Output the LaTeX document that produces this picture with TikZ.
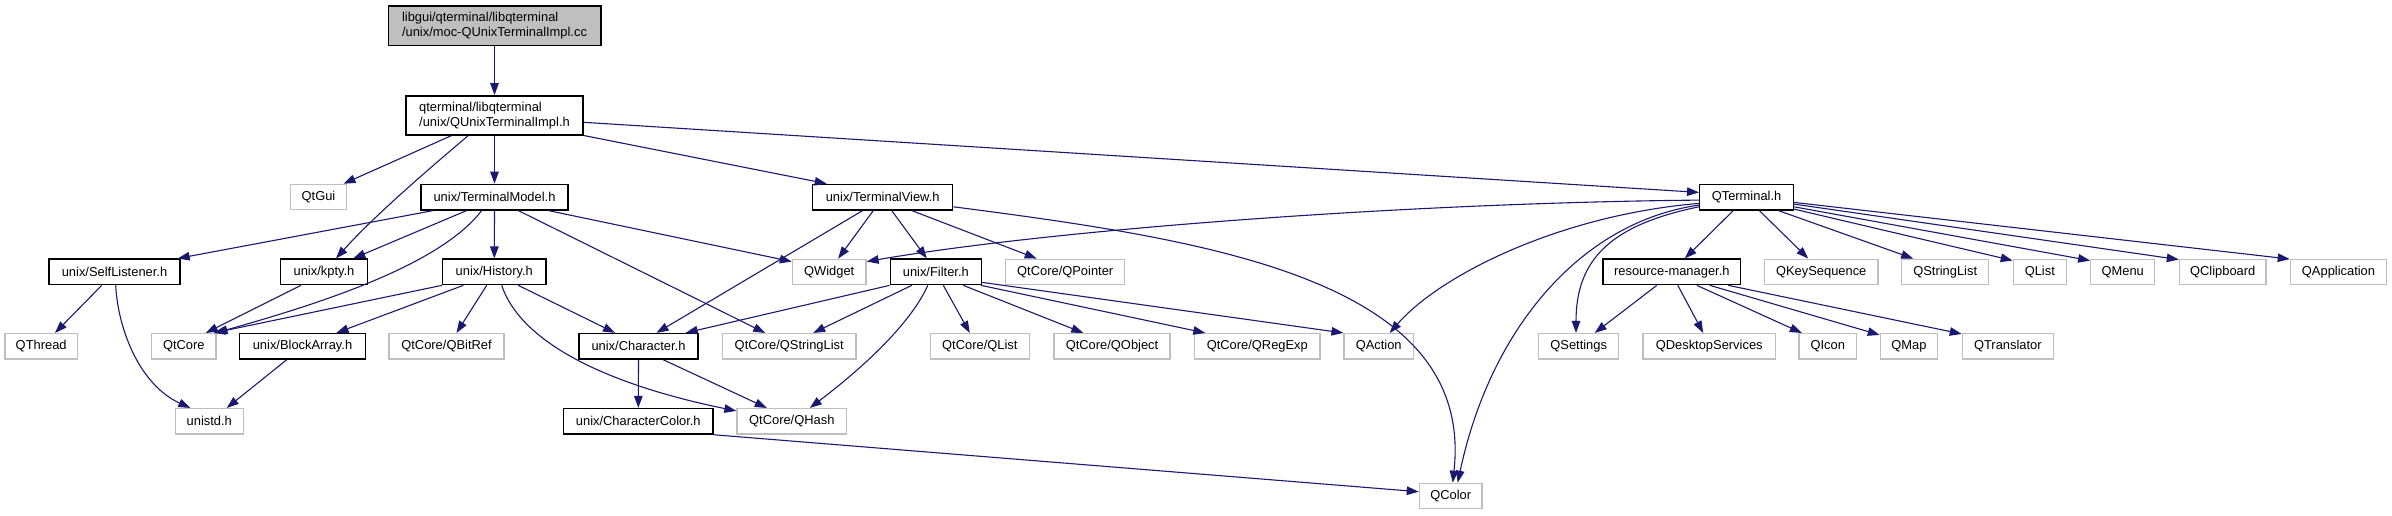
\documentclass[tikz,border=0pt]{standalone}
\usepackage{fontspec}
\setmainfont{Liberation Sans}
\usetikzlibrary{arrows.meta}
\definecolor{edgec}{HTML}{191970}
\definecolor{greyb}{HTML}{BFBFBF}
\begin{document}
\begin{tikzpicture}[x=1pt,y=-1pt,
  every node/.style={font=\fontsize{12.9}{15}\selectfont, inner sep=0pt, minimum height=25.5pt, anchor=center},
  docnode/.style={draw=black, line width=1.4pt, fill=white},
  extnode/.style={draw=greyb, line width=1.2pt, fill=white},
  rootnode/.style={draw=black, line width=1.4pt, fill=greyb, align=left, minimum height=39.5pt},
  twonode/.style={draw=black, line width=1.4pt, fill=white, align=left, minimum height=39pt},
  dep/.style={draw=edgec, line width=1.1pt, -{Triangle[length=12pt,width=8.5pt]}}
]
\useasboundingbox (0,0) rectangle (2392,515);
% row 0,1
\node[rootnode, minimum width=212.6pt] (root) at (494.5,25.9) {libgui/qterminal/libqterminal\\/unix/moc-QUnixTerminalImpl.cc};
\node[twonode, minimum width=177pt] (impl) at (494.5,115.3) {qterminal/libqterminal\\/unix/QUnixTerminalImpl.h};
% row 2
\node[extnode, minimum width=55.6pt] (qtgui) at (318.5,197.1) {QtGui};
\node[docnode, minimum width=147pt] (tmodel) at (494.5,197.1) {unix/TerminalModel.h};
\node[docnode, minimum width=140pt] (tview) at (882.7,197.1) {unix/TerminalView.h};
\node[docnode, minimum width=93.6pt] (qterm) at (1746.5,197.1) {QTerminal.h};
% row 3
\node[docnode, minimum width=131pt] (selfl) at (114.5,271.9) {unix/SelfListener.h};
\node[docnode, minimum width=86.6pt] (kpty) at (324,271.9) {unix/kpty.h};
\node[docnode, minimum width=103.3pt] (hist) at (494.3,271.9) {unix/History.h};
\node[extnode, minimum width=73.7pt] (qwidget) at (829.2,271.9) {QWidget};
\node[docnode, minimum width=91pt] (filter) at (935.8,271.9) {unix/Filter.h};
\node[extnode, minimum width=119pt] (qpointer) at (1065.2,271.9) {QtCore/QPointer};
\node[docnode, minimum width=137.7pt] (resmgr) at (1671.8,271.9) {resource-manager.h};
\node[extnode, minimum width=113.7pt] (qkeyseq) at (1821.2,271.9) {QKeySequence};
\node[extnode, minimum width=87pt] (qstrl) at (1945.2,271.9) {QStringList};
\node[extnode, minimum width=53pt] (qlist) at (2039.8,271.9) {QList};
\node[extnode, minimum width=64pt] (qmenu) at (2122.7,271.9) {QMenu};
\node[extnode, minimum width=86.7pt] (qclip) at (2222.7,271.9) {QClipboard};
\node[extnode, minimum width=96.4pt] (qapp) at (2338.5,271.9) {QApplication};
% row 4
\node[extnode, minimum width=72.3pt] (qthread) at (41.2,346.3) {QThread};
\node[extnode, minimum width=64.3pt] (qtcore) at (183.8,346.3) {QtCore};
\node[docnode, minimum width=125.6pt] (blockarr) at (302.5,346.3) {unix/BlockArray.h};
\node[extnode, minimum width=115pt] (qbitref) at (446.5,346.3) {QtCore/QBitRef};
\node[docnode, minimum width=119pt] (charh) at (638.5,346.3) {unix/Character.h};
\node[extnode, minimum width=133.7pt] (qcsl) at (789.2,346.3) {QtCore/QStringList};
\node[extnode, minimum width=99pt] (qclist) at (979.8,346.3) {QtCore/QList};
\node[extnode, minimum width=116pt] (qobject) at (1112,346.3) {QtCore/QObject};
\node[extnode, minimum width=125.3pt] (qregexp) at (1257.3,346.3) {QtCore/QRegExp};
\node[extnode, minimum width=69.3pt] (qaction) at (1378.7,346.3) {QAction};
\node[extnode, minimum width=80pt] (qsettings) at (1578.7,346.3) {QSettings};
\node[extnode, minimum width=132.3pt] (qdesk) at (1709.2,346.3) {QDesktopServices};
\node[extnode, minimum width=57.7pt] (qicon) at (1827.8,346.3) {QIcon};
\node[extnode, minimum width=57.4pt] (qmap) at (1909,346.3) {QMap};
\node[extnode, minimum width=91pt] (qtrans) at (2007.8,346.3) {QTranslator};
% row 5
\node[extnode, minimum width=68pt] (unistd) at (209.3,421.3) {unistd.h};
\node[docnode, minimum width=149.3pt] (charcolor) at (638.3,421.3) {unix/CharacterColor.h};
\node[extnode, minimum width=109.7pt] (qhash) at (791.8,421.3) {QtCore/QHash};
% row 6
\node[extnode, minimum width=62.7pt] (qcolor) at (1450.7,496) {QColor};

% edges
\draw[dep] (root.south) -- (impl.north);
\draw[dep] ([xshift=-42.8pt]impl.south) -- ([xshift=25pt]qtgui.north);
\draw[dep] ([xshift=-26.2pt]impl.south) .. controls (430,168) and (375,215) .. ([xshift=12pt]kpty.north);
\draw[dep] (impl.south) -- (tmodel.north);
\draw[dep] (impl.south east) -- ([xshift=-56pt]tview.north);
\draw[dep] ([yshift=-7pt]impl.east) -- ([yshift=4.7pt]qterm.west);

\draw[dep] ([xshift=-61.2pt]tmodel.south) -- ([xshift=-3pt]selfl.north east);
\draw[dep] ([xshift=-27.8pt]tmodel.south) -- ([xshift=29.3pt]kpty.north);
\draw[dep] ([xshift=-12.8pt]tmodel.south) .. controls (440,265) and (322,303) .. ([xshift=-1pt]qtcore.north east);
\draw[dep] (tmodel.south) -- (hist.north);
\draw[dep] ([xshift=23.8pt]tmodel.south) -- ([xshift=-24pt]qcsl.north);
\draw[dep] ([xshift=53.8pt]tmodel.south) -- ([yshift=-3pt]qwidget.north west);

\draw[dep] ([xshift=-12.8pt]selfl.south) -- ([xshift=13.8pt]qthread.north);
\draw[dep] ([xshift=1.2pt]selfl.south) .. controls (118,330) and (140,385) .. ([xshift=-19pt]unistd.north);

\draw[dep] ([xshift=-23pt]kpty.south) -- ([xshift=22pt]qtcore.north);

\draw[dep] (hist.south west) -- ([xshift=-3pt]qtcore.north east);
\draw[dep] ([xshift=-31pt]hist.south) -- ([xshift=34pt]blockarr.north);
\draw[dep] ([xshift=-7.6pt]hist.south) -- ([xshift=10pt]qbitref.north);
\draw[dep] ([xshift=24pt]hist.south) -- ([xshift=-23.5pt]charh.north);
\draw[dep] ([xshift=7.4pt]hist.south) .. controls (520,340) and (600,383) .. ([yshift=-3pt]qhash.north west);

\draw[dep] ([xshift=-15.8pt]blockarr.south) -- ([xshift=17.4pt]unistd.north);

\draw[dep] (charh.south) -- (charcolor.north);
\draw[dep] ([xshift=24.8pt]charh.south) -- ([xshift=-25pt]qhash.north);

\draw[dep] (charcolor.south east) -- ([yshift=4.3pt]qcolor.west);

\draw[dep] ([xshift=-20pt]tview.south) -- ([xshift=18pt]charh.north);
\draw[dep] ([xshift=-9.4pt]tview.south) -- ([xshift=9pt]qwidget.north);
\draw[dep] ([xshift=9pt]tview.south) -- ([xshift=-9pt]filter.north);
\draw[dep] ([xshift=29pt]tview.south) -- ([xshift=-28.5pt]qpointer.north);
\draw[dep] ([yshift=-9.7pt]tview.east) .. controls (1210,240) and (1475,280) .. ([xshift=2pt]qcolor.north);

\draw[dep] (filter.south west) -- ([xshift=-13pt]charh.north east);
\draw[dep] ([xshift=-24pt]filter.south) -- ([xshift=24pt]qcsl.north);
\draw[dep] ([xshift=-8pt]filter.south) .. controls (910,325) and (860,370) .. ([xshift=18pt]qhash.north);
\draw[dep] ([xshift=7.5pt]filter.south) -- ([xshift=-10pt]qclist.north);
\draw[dep] ([xshift=27.5pt]filter.south) -- ([xshift=-28.7pt]qobject.north);
\draw[dep] ([xshift=-1pt]filter.south east) -- ([xshift=-52pt]qregexp.north);
\draw[dep] ([yshift=3pt]filter.south east) -- (qaction.north west);

\draw[dep] ([yshift=-3pt]qterm.west) .. controls (1400,203) and (1050,230) .. ([yshift=-3pt]qwidget.north east);
\draw[dep] ([yshift=-6.3pt]qterm.west) .. controls (1560,215) and (1440,275) .. ([xshift=11pt]qaction.north);
\draw[dep] ([yshift=-8pt]qterm.west) .. controls (1580,222) and (1490,330) .. ([xshift=7pt]qcolor.north);
\draw[dep] ([yshift=-9.7pt]qterm.west) .. controls (1610,225) and (1576,260) .. ([xshift=-2.7pt]qsettings.north);
\draw[dep] ([xshift=-13.2pt]qterm.south) -- ([xshift=13pt]resmgr.north);
\draw[dep] ([xshift=12.8pt]qterm.south) -- ([xshift=-13pt]qkeyseq.north);
\draw[dep] ([xshift=31.8pt]qterm.south) -- ([xshift=-32pt]qstrl.north);
\draw[dep] ([yshift=-12pt]qterm.east) -- ([yshift=-2pt]qlist.north west);
\draw[dep] ([yshift=-9.7pt]qterm.east) -- ([yshift=-2pt]qmenu.north west);
\draw[dep] ([yshift=-7pt]qterm.east) -- ([yshift=-1pt]qclip.north west);
\draw[dep] ([yshift=-5.3pt]qterm.east) -- ([yshift=-0.5pt]qapp.north west);

\draw[dep] ([xshift=-15pt]resmgr.south) -- ([xshift=16pt]qsettings.north);
\draw[dep] ([xshift=6pt]resmgr.south) -- ([xshift=-6pt]qdesk.north);
\draw[dep] ([xshift=25pt]resmgr.south) -- ([xshift=-26pt]qicon.north);
\draw[dep] ([xshift=38pt]resmgr.south) -- ([yshift=-2pt]qmap.north west);
\draw[dep] ([xshift=56.5pt]resmgr.south) -- ([yshift=-1pt]qtrans.north west);
\end{tikzpicture}
\end{document}
